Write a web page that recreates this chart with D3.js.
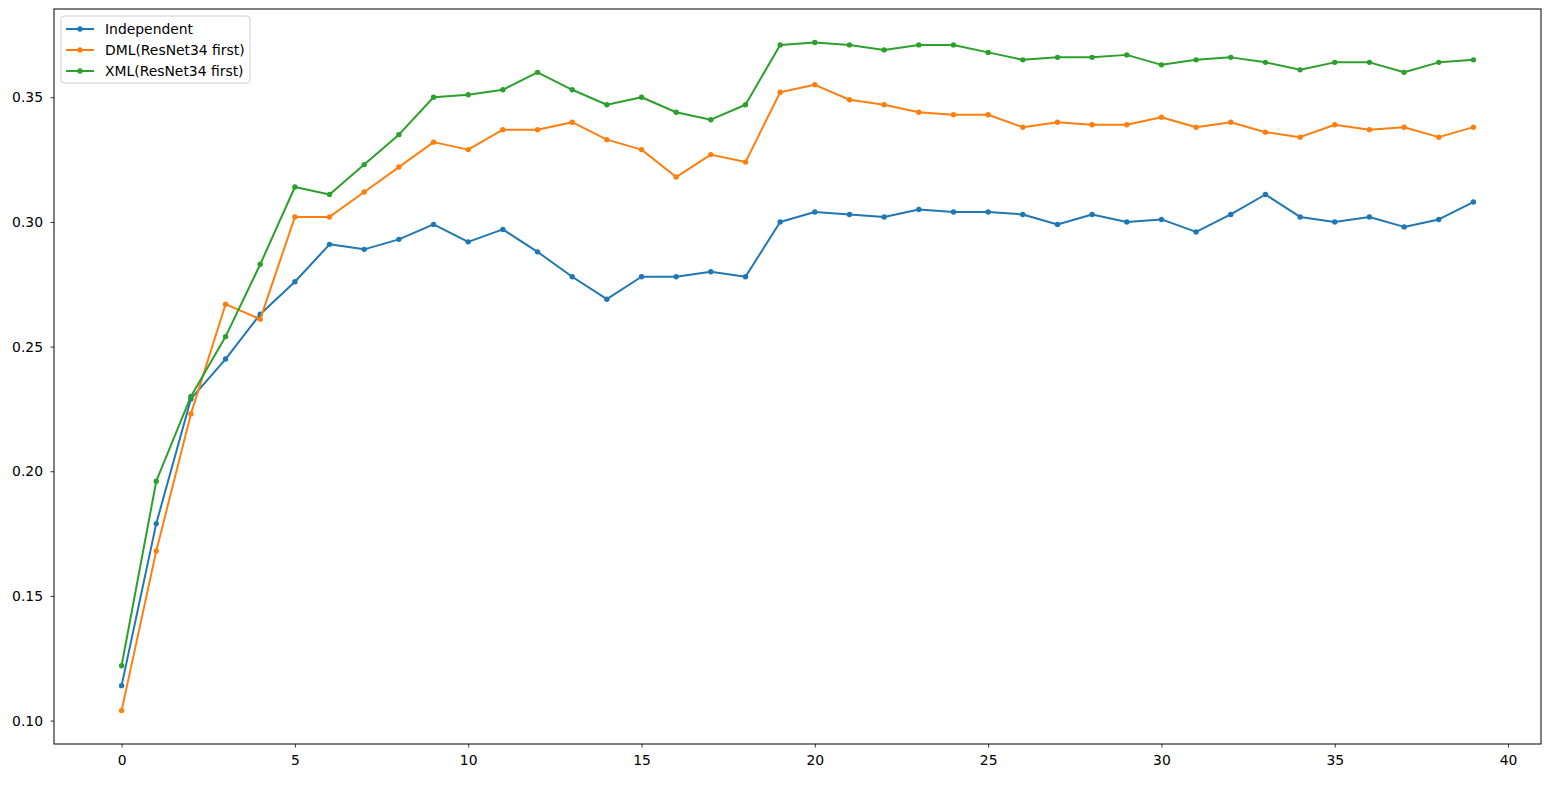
<!DOCTYPE html>
<html>
<head>
<meta charset="utf-8">
<script src="https://cdn.jsdelivr.net/npm/d3@7"></script>
<style>
	body { margin: 0; background: #fff; }
	text { font-family: "DejaVu Sans", sans-serif; }
</style>
</head>
<body>
<svg width="1557" height="792"></svg>
<script>
// epochs 0..39
let epochs = d3.range(0, 40);

let independent = [0.114, 0.179, 0.229, 0.245, 0.263, 0.276, 0.291, 0.289, 0.293, 0.299,
	0.292, 0.297, 0.288, 0.278, 0.269, 0.278, 0.278, 0.280, 0.278, 0.300,
	0.304, 0.303, 0.302, 0.305, 0.304, 0.304, 0.303, 0.299, 0.303, 0.300,
	0.301, 0.296, 0.303, 0.311, 0.302, 0.300, 0.302, 0.298, 0.301, 0.308];

let dml = [0.104, 0.168, 0.223, 0.267, 0.261, 0.302, 0.302, 0.312, 0.322, 0.332,
	0.329, 0.337, 0.337, 0.340, 0.333, 0.329, 0.318, 0.327, 0.324, 0.352,
	0.355, 0.349, 0.347, 0.344, 0.343, 0.343, 0.338, 0.340, 0.339, 0.339,
	0.342, 0.338, 0.340, 0.336, 0.334, 0.339, 0.337, 0.338, 0.334, 0.338];

let xml = [0.122, 0.196, 0.230, 0.254, 0.283, 0.314, 0.311, 0.323, 0.335, 0.350,
	0.351, 0.353, 0.360, 0.353, 0.347, 0.350, 0.344, 0.341, 0.347, 0.371,
	0.372, 0.371, 0.369, 0.371, 0.371, 0.368, 0.365, 0.366, 0.366, 0.367,
	0.363, 0.365, 0.366, 0.364, 0.361, 0.364, 0.364, 0.360, 0.364, 0.365];

let series_names = ["Independent", "DML(ResNet34 first)", "XML(ResNet34 first)"];
let series_colors = ["#1f77b4", "#ff7f0e", "#2ca02c"];
let x_ticks = [0, 5, 10, 15, 20, 25, 30, 35, 40];
let y_ticks = [0.10, 0.15, 0.20, 0.25, 0.30, 0.35];

function draw_chart() {
	let svg = d3.select("svg");
	let left = 54, right = 1541, top = 9, bottom = 744;

	let all_series = [independent, dml, xml];
	let all_values = [].concat(independent, dml, xml);
	let y_min = d3.min(all_values), y_max = d3.max(all_values);
	let y_pad = (y_max - y_min) * 0.05;
	let x_pad = (epochs[epochs.length - 1] - epochs[0]) * 0.05;

	let x = d3.scaleLinear()
		.domain([epochs[0] - x_pad, epochs[epochs.length - 1] + x_pad])
		.range([left, right]);
	let y = d3.scaleLinear()
		.domain([y_min - y_pad, y_max + y_pad])
		.range([bottom, top]);

	// axes
	let x_axis = svg.append("g")
		.attr("transform", "translate(0," + bottom + ")")
		.call(d3.axisBottom(x).tickValues(x_ticks).tickFormat(d3.format("d")).tickSizeOuter(0).tickSize(3.5).tickPadding(8));
	let y_axis = svg.append("g")
		.attr("transform", "translate(" + left + ",0)")
		.call(d3.axisLeft(y).tickValues(y_ticks).tickFormat(d3.format(".2f")).tickSizeOuter(0).tickSize(3.5).tickPadding(7.5));
	[x_axis, y_axis].forEach(function(a) {
		a.select(".domain").remove();
		a.selectAll("line").attr("stroke", "#000").attr("stroke-width", 0.8);
		a.selectAll("text").attr("font-size", "13.9px").attr("fill", "#000")
			.attr("font-family", "'DejaVu Sans', sans-serif");
	});

	let line_generator = d3.line()
		.x(function(d, i) { return x(epochs[i]); })
		.y(function(d) { return y(d); });

	let g = svg.append("g");
	all_series.forEach(function(values, k) {
		g.append("path")
			.datum(values)
			.attr("d", line_generator)
			.attr("fill", "none")
			.attr("stroke", series_colors[k])
			.attr("stroke-width", 2)
			.attr("stroke-linejoin", "round")
			.attr("stroke-linecap", "square");
		g.selectAll(".pt" + k)
			.data(values)
			.enter()
			.append("circle")
			.attr("class", "pt" + k)
			.attr("cx", function(d, i) { return x(epochs[i]); })
			.attr("cy", function(d) { return y(d); })
			.attr("r", 2.7)
			.attr("fill", series_colors[k]);
	});

	// frame
	svg.append("rect")
		.attr("x", left).attr("y", top)
		.attr("width", right - left).attr("height", bottom - top)
		.attr("fill", "none").attr("stroke", "#000").attr("stroke-width", 1);

	// legend
	let legend = svg.append("g").attr("transform", "translate(61,16)");
	legend.append("rect")
		.attr("x", 0).attr("y", 0).attr("width", 189).attr("height", 67)
		.attr("rx", 3).attr("fill", "#fff").attr("fill-opacity", 0.8)
		.attr("stroke", "#d0d0d0").attr("stroke-width", 1);
	series_names.forEach(function(name, k) {
		let yy = 13 + k * 21;
		legend.append("line")
			.attr("x1", 5).attr("x2", 33).attr("y1", yy).attr("y2", yy)
			.attr("stroke", series_colors[k]).attr("stroke-width", 2);
		legend.append("circle")
			.attr("cx", 19).attr("cy", yy).attr("r", 2.7).attr("fill", series_colors[k]);
		legend.append("text")
			.attr("x", 44).attr("y", yy).attr("dy", "0.35em")
			.attr("font-size", "13.9px").attr("fill", "#000")
			.text(name);
	});
}

draw_chart();
</script>
</body>
</html>
